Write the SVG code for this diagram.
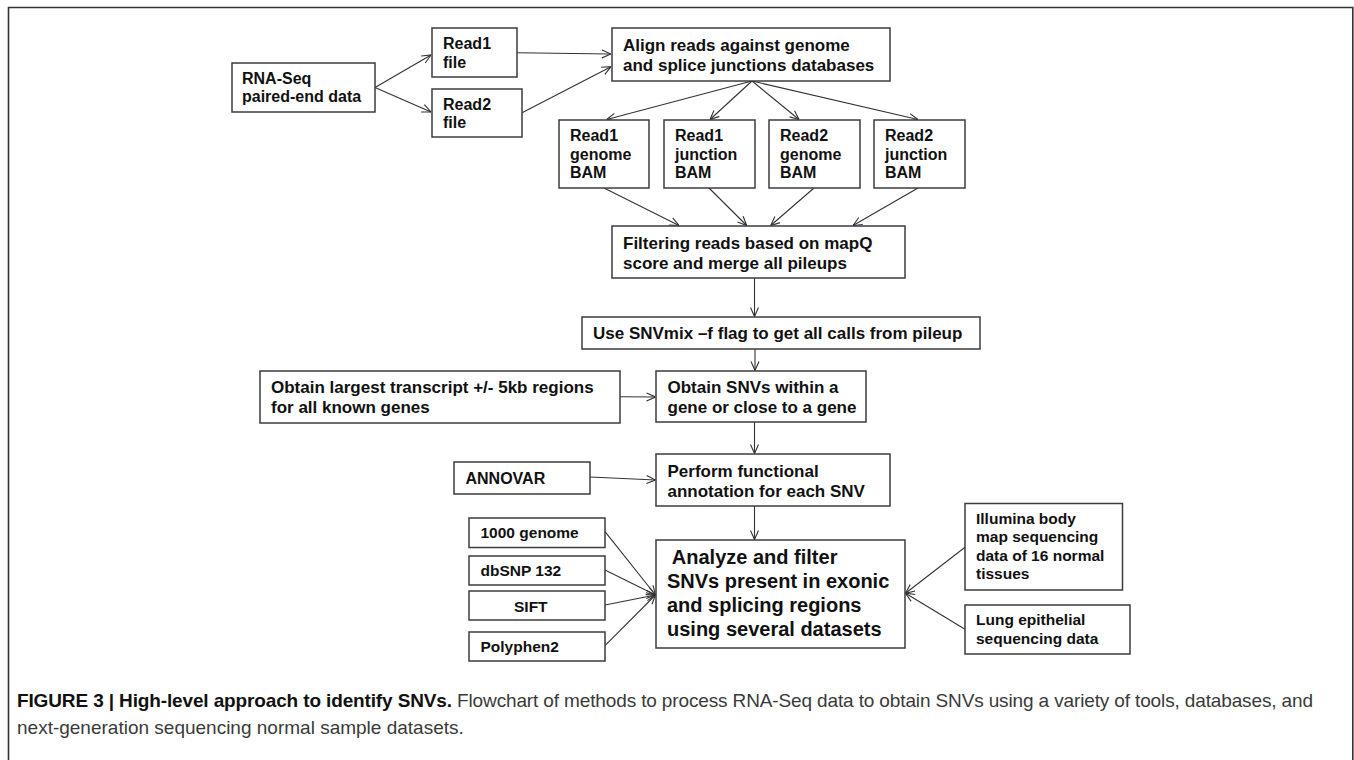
<svg xmlns="http://www.w3.org/2000/svg" width="1354" height="760" viewBox="0 0 1354 760">
<defs>
<style>
.box{fill:#fff;stroke:#3c3c3c;stroke-width:1.5}
.t{font-family:"Liberation Sans",Arial,sans-serif;font-weight:bold;fill:#111}
.s15{font-size:15.5px}.s16{font-size:16px}.s17{font-size:17px}.s20{font-size:20px}
.conn line{stroke:#333;stroke-width:1.1;fill:none;marker-end:url(#arr)}
.cap{font-family:"Liberation Sans",Arial,sans-serif;font-size:19px;fill:#3a3a3a}
</style>
<marker id="arr" viewBox="0 0 10 10" refX="10" refY="5" markerWidth="10" markerHeight="10" markerUnits="userSpaceOnUse" orient="auto">
<path d="M1,1 L10,5 L1,9" fill="none" stroke="#333" stroke-width="1.1"/>
</marker>
</defs>
<rect width="1354" height="760" fill="#fff"/>
<path d="M8.5,770 V7.5 H1352.8 V770" fill="none" stroke="#333" stroke-width="1.6"/>

<g id="connectors" class="conn">
<line x1="375" y1="87.5" x2="431" y2="55"/>
<line x1="375" y1="87.5" x2="431" y2="112"/>
<line x1="517" y1="52.7" x2="611" y2="54"/>
<line x1="522" y1="112.7" x2="611" y2="66.7"/>
<line x1="752" y1="81" x2="606.7" y2="119.5"/>
<line x1="752" y1="81" x2="710" y2="119.5"/>
<line x1="752" y1="81" x2="799" y2="119.5"/>
<line x1="752" y1="81" x2="918" y2="119.5"/>
<line x1="604" y1="188" x2="679" y2="225.5"/>
<line x1="709" y1="188" x2="746.7" y2="225.5"/>
<line x1="814" y1="188" x2="770.7" y2="225.5"/>
<line x1="918" y1="188" x2="853" y2="225.5"/>
<line x1="754.5" y1="278" x2="754.5" y2="316.5"/>
<line x1="755" y1="349" x2="755" y2="370.5"/>
<line x1="620" y1="396.7" x2="655.5" y2="397"/>
<line x1="754.5" y1="422" x2="754.5" y2="453.5"/>
<line x1="590" y1="477" x2="655.5" y2="480"/>
<line x1="754.5" y1="506" x2="754.5" y2="539.5"/>
<line x1="605" y1="531.7" x2="655.5" y2="595"/>
<line x1="605" y1="570" x2="655.5" y2="595"/>
<line x1="605" y1="605" x2="655.5" y2="595"/>
<line x1="605" y1="645.7" x2="655.5" y2="595"/>
<line x1="965" y1="547.3" x2="905.5" y2="593.3"/>
<line x1="965" y1="629.3" x2="905.5" y2="593.3"/>
</g>

<g id="rnaseq"><rect class="box" x="232" y="63" width="143" height="49"/>
<text class="t s16" x="242" y="84">RNA-Seq</text><text class="t s16" x="242" y="102">paired-end data</text></g>
<g id="read1file"><rect class="box" x="432" y="28" width="85" height="49"/>
<text class="t s16" x="443" y="49">Read1</text><text class="t s16" x="443" y="68">file</text></g>
<g id="read2file"><rect class="box" x="432" y="89" width="90" height="48"/>
<text class="t s16" x="443" y="110">Read2</text><text class="t s16" x="443" y="128">file</text></g>
<g id="align"><rect class="box" x="612" y="28" width="278" height="53"/>
<text class="t s17" x="623" y="51">Align reads against genome</text><text class="t s17" x="623" y="71">and splice junctions databases</text></g>

<g id="r1genome"><rect class="box" x="559" y="120" width="90" height="68"/>
<text class="t s16" x="570" y="141">Read1</text><text class="t s16" x="570" y="159.5">genome</text><text class="t s16" x="570" y="178">BAM</text></g>
<g id="r1junction"><rect class="box" x="664" y="120" width="91" height="68"/>
<text class="t s16" x="675" y="141">Read1</text><text class="t s16" x="675" y="159.5">junction</text><text class="t s16" x="675" y="178">BAM</text></g>
<g id="r2genome"><rect class="box" x="769" y="120" width="91" height="68"/>
<text class="t s16" x="780" y="141">Read2</text><text class="t s16" x="780" y="159.5">genome</text><text class="t s16" x="780" y="178">BAM</text></g>
<g id="r2junction"><rect class="box" x="874" y="120" width="91" height="68"/>
<text class="t s16" x="885" y="141">Read2</text><text class="t s16" x="885" y="159.5">junction</text><text class="t s16" x="885" y="178">BAM</text></g>

<g id="filtering"><rect class="box" x="612" y="226" width="293" height="52"/>
<text class="t s17" x="623" y="249">Filtering reads based on mapQ</text><text class="t s17" x="623" y="268.5">score and merge all pileups</text></g>
<g id="snvmix"><rect class="box" x="582" y="317" width="398" height="32"/>
<text class="t s17" x="593" y="339">Use SNVmix –f flag to get all calls from pileup</text></g>

<g id="largest"><rect class="box" x="260" y="371" width="360" height="52"/>
<text class="t s17" x="271" y="393">Obtain largest transcript +/- 5kb regions</text><text class="t s17" x="271" y="413">for all known genes</text></g>
<g id="obtainsnv"><rect class="box" x="656" y="371" width="210" height="51"/>
<text class="t s17" x="667.5" y="393">Obtain SNVs within a</text><text class="t s17" x="667.5" y="413">gene or close to a gene</text></g>

<g id="annovar"><rect class="box" x="454" y="462" width="136" height="32"/>
<text class="t s16" x="465.5" y="483.5">ANNOVAR</text></g>
<g id="perform"><rect class="box" x="656" y="454" width="234" height="52"/>
<text class="t s17" x="667.5" y="476.5">Perform functional</text><text class="t s17" x="667.5" y="496.5">annotation for each SNV</text></g>

<g id="g1000"><rect class="box" x="469" y="518" width="136" height="29.5"/>
<text class="t s15" x="480.5" y="538">1000 genome</text></g>
<g id="dbsnp"><rect class="box" x="469" y="556" width="136" height="29"/>
<text class="t s15" x="480.5" y="576">dbSNP 132</text></g>
<g id="sift"><rect class="box" x="469" y="591" width="136" height="29"/>
<text class="t s15" x="514" y="611.5">SIFT</text></g>
<g id="polyphen"><rect class="box" x="469" y="632" width="136" height="29"/>
<text class="t s15" x="480.5" y="652">Polyphen2</text></g>

<g id="analyze"><rect class="box" x="656" y="540" width="249" height="108"/>
<text class="t s20" x="667" y="564" xml:space="preserve"> Analyze and filter</text>
<text class="t s20" x="667" y="588">SNVs present in exonic</text>
<text class="t s20" x="667" y="612">and splicing regions</text>
<text class="t s20" x="667" y="636">using several datasets</text></g>

<g id="illumina"><rect class="box" x="965" y="503.5" width="157.5" height="86.5"/>
<text class="t s15" x="976" y="523.5">Illumina body</text><text class="t s15" x="976" y="542">map sequencing</text><text class="t s15" x="976" y="560.5">data of 16 normal</text><text class="t s15" x="976" y="579">tissues</text></g>
<g id="lung"><rect class="box" x="965" y="605" width="165" height="49"/>
<text class="t s15" x="976" y="625">Lung epithelial</text><text class="t s15" x="976" y="643.5">sequencing data</text></g>

<g id="caption">
<text class="cap" x="17" y="707" textLength="1296" lengthAdjust="spacing"><tspan font-weight="bold" fill="#111">FIGURE 3 | High-level approach to identify SNVs.</tspan> Flowchart of methods to process RNA-Seq data to obtain SNVs using a variety of tools, databases, and</text>
<text class="cap" x="17" y="734">next-generation sequencing normal sample datasets.</text>
</g>
</svg>
